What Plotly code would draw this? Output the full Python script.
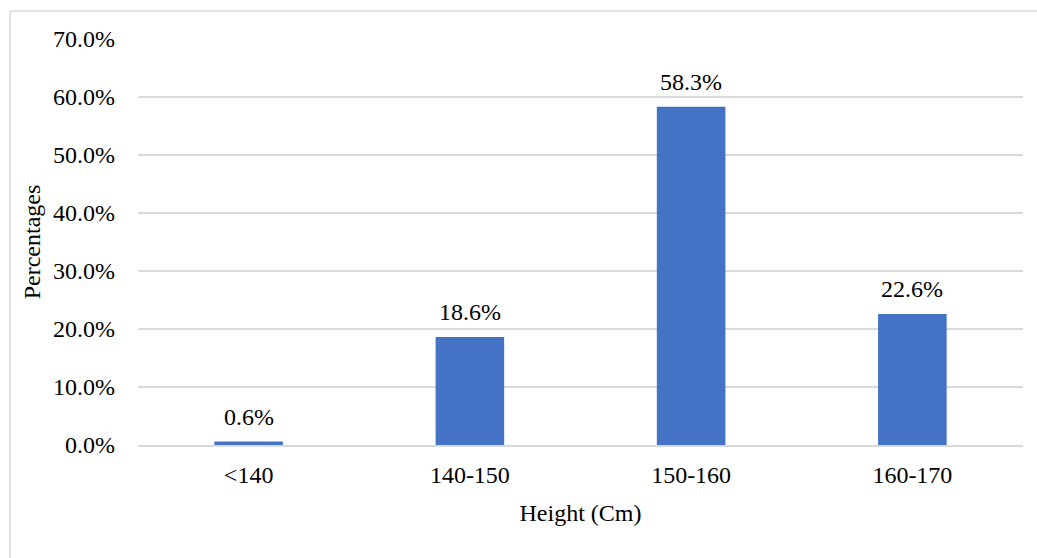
import plotly.graph_objects as go

# Height distribution of respondents
categories = ["<140", "140-150", "150-160", "160-170"]
percentages = [0.6, 18.6, 58.3, 22.6]
y_ticks = [0, 10, 20, 30, 40, 50, 60, 70]

FONT = "Liberation Serif"
FS = 24
BAR_COLOR = "#4472C4"
GRID = "#d9d9d9"

fig = go.Figure(
    go.Bar(
        x=categories,
        y=percentages,
        marker=dict(color=BAR_COLOR, line=dict(width=0)),
        hovertemplate="%{x}: %{y:.1f}%<extra></extra>",
    )
)

# Value labels above each bar
for cat, val in zip(categories, percentages):
    fig.add_annotation(
        x=cat, y=val, text=f"{val:.1f}%", showarrow=False,
        yanchor="bottom", yshift=10,
        font=dict(family=FONT, size=FS, color="#000000"),
    )

# Outer chart frame (left and top edges)
fig.add_shape(type="line", xref="paper", yref="paper",
              x0=-0.1446, x1=-0.1446, y0=-0.35, y1=1.069,
              line=dict(color=GRID, width=1.5))
fig.add_shape(type="line", xref="paper", yref="paper",
              x0=-0.1446, x1=1.05, y0=1.069, y1=1.069,
              line=dict(color=GRID, width=1.5))

fig.update_layout(
    width=1037, height=558,
    margin=dict(l=138, r=14, t=39, b=113),
    paper_bgcolor="white", plot_bgcolor="white",
    bargap=0.69,
    showlegend=False,
    font=dict(family=FONT, size=FS, color="#000000"),
    xaxis=dict(
        showgrid=False, showline=True, linecolor=GRID, linewidth=1.5,
        ticks="", ticklabelstandoff=7,
        tickfont=dict(family=FONT, size=FS, color="#000000"),
        title=dict(text="Height (Cm)", standoff=18,
                   font=dict(family=FONT, size=FS, color="#000000")),
    ),
    yaxis=dict(
        range=[0, 70], tickvals=y_ticks,
        ticktext=[f"{v:.1f}%" for v in y_ticks],
        showgrid=True, gridcolor=GRID, gridwidth=1.5,
        zeroline=False, showline=False, ticks="",
        ticklabelstandoff=22,
        tickfont=dict(family=FONT, size=FS, color="#000000"),
        title=dict(text="Percentages", standoff=5,
                   font=dict(family=FONT, size=FS, color="#000000")),
    ),
)

fig.write_html("out.html")
